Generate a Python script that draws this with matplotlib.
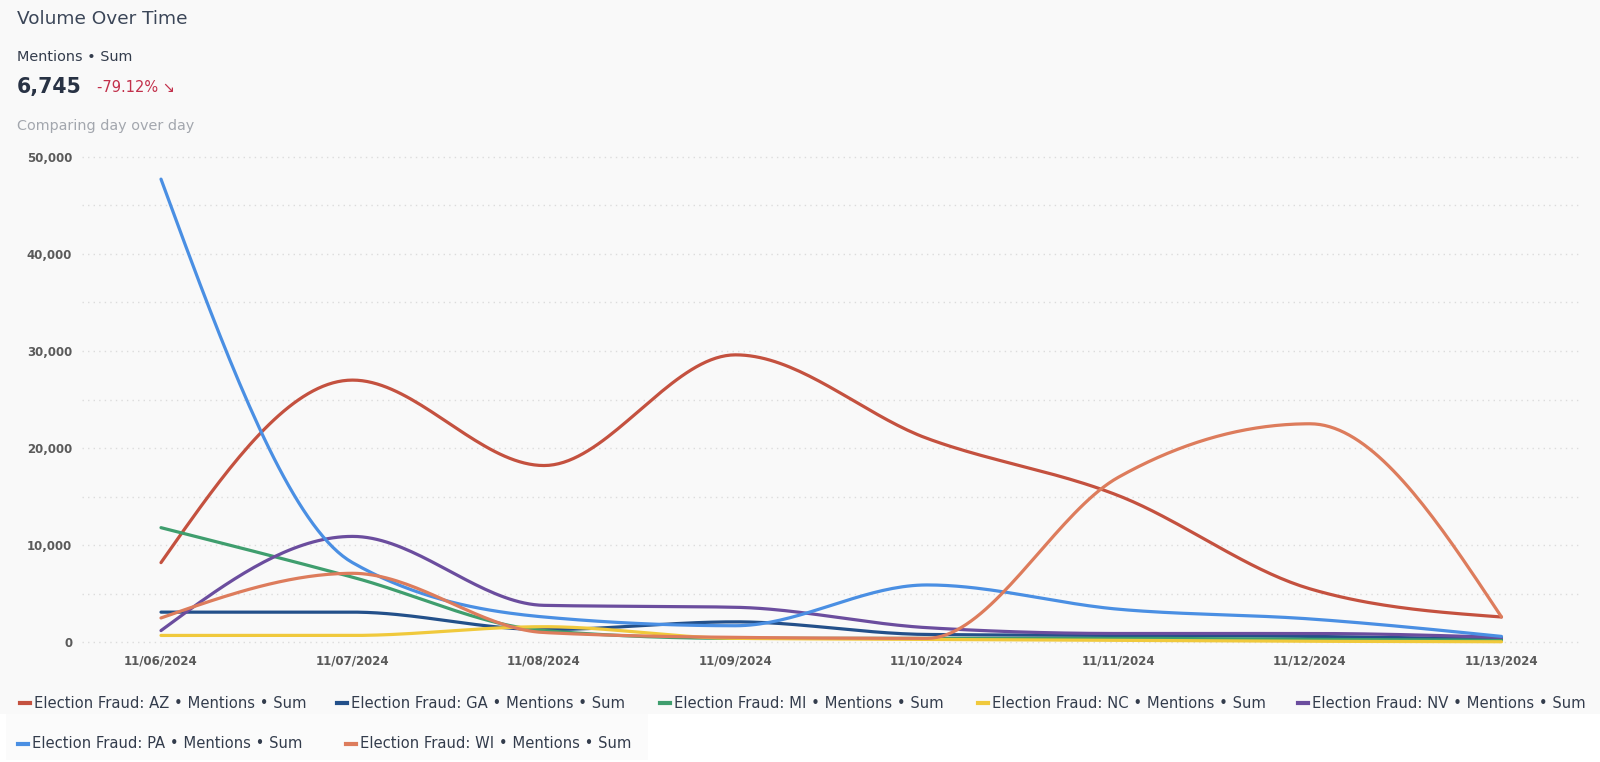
import numpy as np
import matplotlib
matplotlib.use("Agg")
import matplotlib.pyplot as plt
from matplotlib.lines import Line2D
from matplotlib.patches import Rectangle

# --- data ---
dates = ["11/06/2024", "11/07/2024", "11/08/2024", "11/09/2024",
         "11/10/2024", "11/11/2024", "11/12/2024", "11/13/2024"]
states = ["AZ", "GA", "MI", "NC", "NV", "PA", "WI"]
az = [8200, 27000, 18200, 29600, 21000, 15100, 5500, 2600]
ga = [3100, 3100, 1300, 2100, 800, 700, 600, 300]
mi = [11800, 6700, 1200, 400, 400, 400, 300, 200]
nc = [700, 700, 1600, 400, 300, 200, 100, 50]
nv = [1200, 10900, 3800, 3600, 1500, 900, 900, 500]
pa = [47700, 8200, 2600, 1700, 5900, 3400, 2400, 600]
wi = [2500, 7100, 1000, 500, 400, 17000, 22500, 2600]
series = [az, ga, mi, nc, nv, pa, wi]
colors = ["#c4513f", "#23508a", "#3f9e6e", "#f0c93c", "#6b4d9e", "#4a8fe3", "#dd7c5c"]
y_ticks = [0, 10000, 20000, 30000, 40000, 50000]


def monotone(y, n=40):
    # monotone cubic (d3 curveMonotoneX style) through the points
    y = np.asarray(y, float)
    x = np.arange(len(y), dtype=float)
    s = np.diff(y)
    t = np.zeros_like(y)
    for i in range(1, len(y) - 1):
        s0, s1 = s[i - 1], s[i]
        p = (s0 + s1) / 2
        t[i] = (np.sign(s0) + np.sign(s1)) * min(abs(s0), abs(s1), 0.5 * abs(p))
    t[0] = (3 * s[0] - t[1]) / 2
    t[-1] = (3 * s[-1] - t[-2]) / 2
    xs, ys = [], []
    for i in range(len(y) - 1):
        u = np.linspace(0, 1, n)
        h00 = 2 * u**3 - 3 * u**2 + 1
        h10 = u**3 - 2 * u**2 + u
        h01 = -2 * u**3 + 3 * u**2
        h11 = u**3 - u**2
        xs.append(x[i] + u)
        ys.append(h00 * y[i] + h10 * t[i] + h01 * y[i + 1] + h11 * t[i + 1])
    return np.concatenate(xs), np.concatenate(ys)


fig = plt.figure(figsize=(16, 7.62), dpi=100)
fig.patch.set_facecolor("#f9f9f9")
W, H = 1600, 762

# white strip under the legend
fig.add_artist(Rectangle((0, 0), 1, (H - 714) / H, transform=fig.transFigure,
                         facecolor="white", edgecolor="none", zorder=0))
fig.add_artist(Rectangle((6 / W, (H - 760) / H), 642 / W, 46 / H, transform=fig.transFigure,
                         facecolor="#fbfbfb", edgecolor="none", zorder=0))

ax = fig.add_axes([82 / W, (H - 650) / H, (1580 - 82) / W, 500 / H])
ax.set_facecolor("#f9f9f9")
for sp in ax.spines.values():
    sp.set_visible(False)

for v in range(0, 50001, 5000):
    ax.axhline(v, color="#dcdcdc", lw=1, ls=(0, (1, 3)), zorder=0)

for vals, c in zip(series, colors):
    xs, ys = monotone(vals)
    ax.plot(xs, ys, color=c, lw=2.3, solid_capstyle="round")

ax.set_xlim(-0.4125, 7.41)
ax.set_ylim(-800, 50700)
ax.set_xticks(range(len(dates)))
ax.set_xticklabels(dates)
ax.set_yticks(y_ticks)
ax.set_yticklabels([f"{v:,}" for v in y_ticks])
ax.tick_params(length=0, labelsize=8.5, labelcolor="#5a5a5a")
ax.xaxis.set_tick_params(pad=3)
ax.yaxis.set_tick_params(pad=7)
for lab in ax.get_xticklabels() + ax.get_yticklabels():
    lab.set_fontweight("bold")

# header texts
fig.text(17 / W, 1 - 19 / H, "Volume Over Time", fontsize=13.3, color="#3b4658", va="center")
fig.text(17 / W, 1 - 57 / H, "Mentions \u2022 Sum", fontsize=10.4, color="#333c4c", va="center")
fig.text(17 / W, 1 - 87 / H, "6,745", fontsize=14.8, fontweight="bold", color="#283244", va="center")
fig.text(97 / W, 1 - 87 / H, "-79.12% \u2198", fontsize=10.5, color="#c2304b", va="center")
fig.text(17 / W, 1 - 126 / H, "Comparing day over day", fontsize=10.4, color="#a3a7ae", va="center")

# legend, laid out as in the reference
leg_pos = [(20, 703), (337, 703), (660, 703), (978, 703), (1298, 703), (18, 744), (346, 744)]
for (px, py), st, c in zip(leg_pos, states, colors):
    fig.add_artist(Line2D([px / W, (px + 10) / W], [1 - py / H, 1 - py / H],
                          transform=fig.transFigure, color=c, lw=3))
    fig.text((px + 14) / W, 1 - py / H, f"Election Fraud: {st} \u2022 Mentions \u2022 Sum",
             fontsize=10.6, color="#333c4c", va="center")

fig.savefig("out.png", dpi=100, facecolor=fig.get_facecolor())
